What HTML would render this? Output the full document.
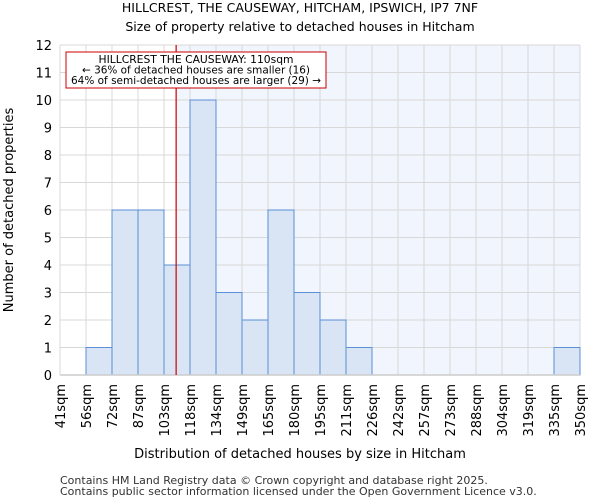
<!DOCTYPE html>
<html><head><meta charset="utf-8"><style>
body{margin:0;background:#fff;font-family:"DejaVu Sans","Liberation Sans",sans-serif}
</style></head><body>
<svg id="c" width="600" height="500" xmlns="http://www.w3.org/2000/svg" style="font-family:'DejaVu Sans','Liberation Sans',sans-serif">
<text x="300" y="12" text-anchor="middle" font-size="12.5">HILLCREST, THE CAUSEWAY, HITCHAM, IPSWICH, IP7 7NF</text>
<text x="300" y="31" text-anchor="middle" font-size="12.5">Size of property relative to detached houses in Hitcham</text>
<g id="plot"></g>
<text x="300" y="458" text-anchor="middle" font-size="13">Distribution of detached houses by size in Hitcham</text>
<text transform="translate(13,210) rotate(-90)" text-anchor="middle" font-size="13">Number of detached properties</text>
<text x="60" y="484" font-size="11" fill="#333">Contains HM Land Registry data © Crown copyright and database right 2025.</text>
<text x="60" y="495" font-size="11" fill="#333">Contains public sector information licensed under the Open Government Licence v3.0.</text>
</svg>
<script>
const binLabels=["41sqm","56sqm","72sqm","87sqm","103sqm","118sqm","134sqm","149sqm","165sqm","180sqm","195sqm","211sqm","226sqm","242sqm","257sqm","273sqm","288sqm","304sqm","319sqm","335sqm","350sqm"];
const binEdges=[41,56,72,87,103,118,134,149,165,180,195,211,226,242,257,273,288,304,319,335,350];
const counts=[0,1,6,6,4,10,3,2,6,3,2,1,0,0,0,0,0,0,0,1];
const yTicks=[0,1,2,3,4,5,6,7,8,9,10,11,12];
const markerValue=110;
const NS="http://www.w3.org/2000/svg";
const X0=60,X1=580,Y0=375,Y1=45,YMAX=12;
const g=document.getElementById('plot');
function xi(i){return X0+(X1-X0)*i/counts.length;}
function xv(v){let i=0;while(i<binEdges.length-2&&v>binEdges[i+1])i++;return xi(i)+(v-binEdges[i])/(binEdges[i+1]-binEdges[i])*(xi(i+1)-xi(i));}
function y(v){return Y0-(Y0-Y1)*v/YMAX;}
function el(t,a,p){const e=document.createElementNS(NS,t);for(const k in a)e.setAttribute(k,a[k]);(p||g).appendChild(e);return e;}
const mx=xv(markerValue);
let r=el('rect',{x:mx,y:Y1,width:X1-mx,height:Y0-Y1,fill:'#f1f5fd'});


yTicks.forEach(t=>{let l=el('line',{x1:X0,x2:X1,y1:y(t),y2:y(t),stroke:'#d8d8d8','stroke-width':1});


let tx=el('text',{x:X0-8,y:y(t)+5,'text-anchor':'end','font-size':13});tx.textContent=t;

});
binLabels.forEach((lb,i)=>{let l=el('line',{x1:xi(i),x2:xi(i),y1:Y1,y2:Y0,stroke:'#d8d8d8','stroke-width':1});


let tx=el('text',{transform:`translate(${xi(i)+5},384) rotate(-90)`,'text-anchor':'end','font-size':13});tx.textContent=lb;

});
counts.forEach((c,i)=>{if(c<=0)return;let b=el('rect',{x:xi(i),y:y(c),width:xi(i+1)-xi(i),height:Y0-y(c),fill:'#d9e4f5',stroke:'#5b8fd6','stroke-width':1});

});
let ax=el('line',{x1:X0,x2:X1,y1:Y0,y2:Y0,stroke:'#ccc','stroke-width':1.5});


let ml=el('line',{x1:mx,x2:mx,y1:Y1,y2:Y0,stroke:'#cc0000','stroke-width':1.2});


let box=el('rect',{x:66,y:52,width:260,height:36,fill:'#fff',stroke:'#cc0000','stroke-width':1});


["HILLCREST THE CAUSEWAY: 110sqm","← 36% of detached houses are smaller (16)","64% of semi-detached houses are larger (29) →"].forEach((s,i)=>{let t=el('text',{x:196,y:63+i*10.5,'text-anchor':'middle','font-size':10.5,textLength:i==0?'195':(i==1?'228':'250'),lengthAdjust:'spacingAndGlyphs'});t.textContent=s;

});
</script>
</body></html>
